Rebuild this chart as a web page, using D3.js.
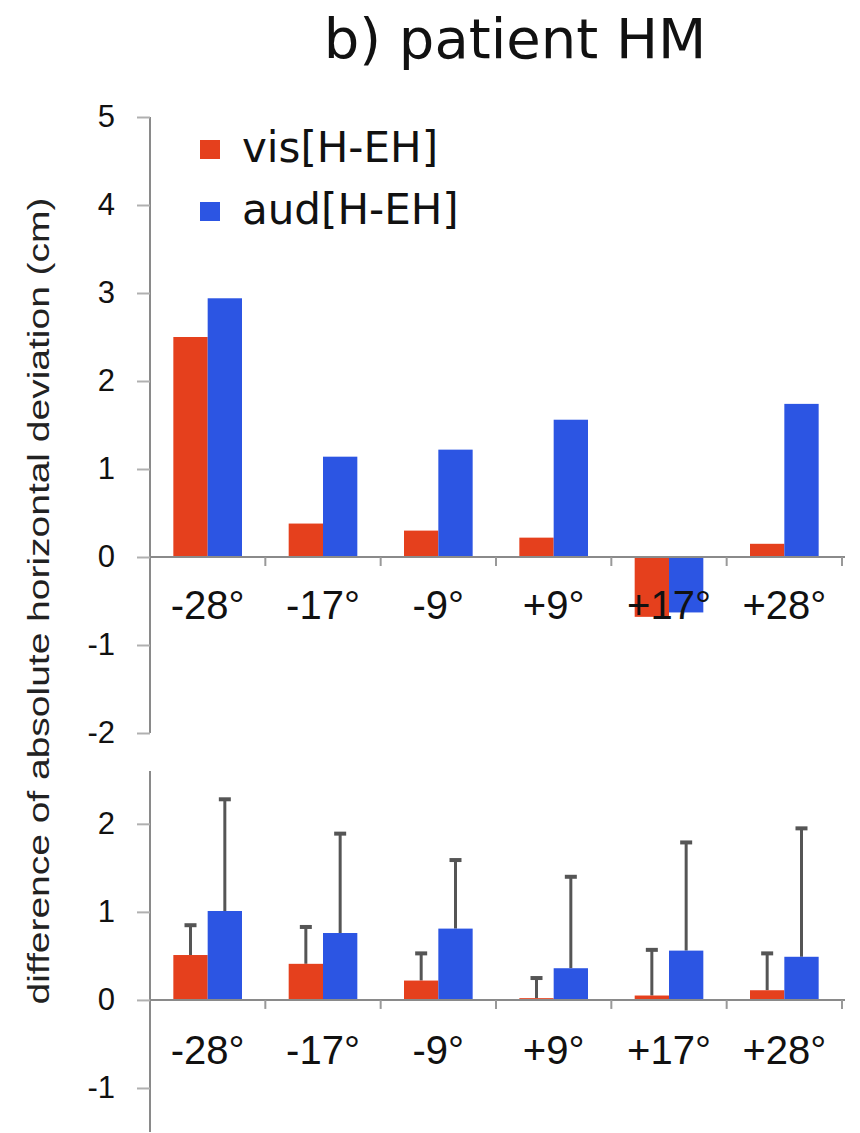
<!DOCTYPE html>
<html>
<head>
<meta charset="utf-8">
<script src="https://cdn.jsdelivr.net/npm/d3@7"></script>
<style>
  body { margin: 0; background: #fff; }
  .axis path, .axis line { stroke: #8a8a8a; }
  .axis text { font-family: "Liberation Sans", Arial, sans-serif; fill: #111; }
</style>
</head>
<body>
<div id="chart"></div>
<script>
"use strict";

// values (cm)
const categories = ["-28°", "-17°", "-9°", "+9°", "+17°", "+28°"];
const seriesNames = ["vis[H-EH]", "aud[H-EH]"];

// upper panel: patient HM
const patientVis = [2.5, 0.38, 0.3, 0.22, -0.68, 0.15];
const patientAud = [2.94, 1.14, 1.22, 1.56, -0.63, 1.74];

// lower panel: means with error bars
const lowerVis = [0.51, 0.41, 0.22, 0.02, 0.05, 0.11];
const lowerAud = [1.01, 0.76, 0.81, 0.36, 0.56, 0.49];
const lowerVisErr = [0.35, 0.43, 0.32, 0.24, 0.53, 0.43];
const lowerAudErr = [1.28, 1.14, 0.79, 1.05, 1.24, 1.47];

const topTicks = [-2, -1, 0, 1, 2, 3, 4, 5];
const bottomTicks = [-1, 0, 1, 2];

const colors = ["#e5401d", "#2c55e3"];

const width = 860,
  height = 1133,
  left = 150,
  right = 842;

const svg = d3
  .select("#chart")
  .append("svg")
  .attr("width", width)
  .attr("height", height);

// title
svg
  .append("text")
  .attr("x", 515)
  .attr("y", 58)
  .attr("text-anchor", "middle")
  .style("font-family", "DejaVu Sans, Verdana, sans-serif")
  .style("font-size", "56px")
  .style("fill", "#111")
  .text("b) patient HM");

// y axis title
svg
  .append("text")
  .attr("transform", "translate(49,601) rotate(-90)")
  .attr("text-anchor", "middle")
  .attr("textLength", 807)
  .attr("lengthAdjust", "spacingAndGlyphs")
  .style("font-family", "Liberation Sans, Arial, sans-serif")
  .style("font-size", "30px")
  .style("fill", "#222")
  .text("difference of absolute horizontal deviation (cm)");

const xScale = d3.scaleBand().domain(categories).range([left, right]);
const xSub = d3
  .scaleBand()
  .domain(seriesNames)
  .range([0, xScale.bandwidth()])
  .paddingInner(0)
  .paddingOuter(0.68);

function drawPanel(opts) {
  const y = d3.scaleLinear().domain(opts.domain).range(opts.range);
  const g = svg.append("g");

  const rows = categories.map(function (c, i) {
    return {
      cat: c,
      values: opts.series.map(function (s, k) {
        return {
          name: seriesNames[k],
          value: s[i],
          err: opts.errors ? opts.errors[k][i] : null,
          color: colors[k],
        };
      }),
    };
  });

  const groups = g
    .selectAll(".grp")
    .data(rows)
    .enter()
    .append("g")
    .attr("class", "grp")
    .attr("transform", (d) => "translate(" + xScale(d.cat) + ",0)");

  // error bars go behind the bars
  if (opts.errors) {
    const eb = groups
      .selectAll(".err")
      .data((d) => d.values)
      .enter()
      .append("g")
      .attr("class", "err")
      .style("stroke", "#555");
    eb.append("line")
      .attr("x1", (d) => xSub(d.name) + xSub.bandwidth() / 2)
      .attr("x2", (d) => xSub(d.name) + xSub.bandwidth() / 2)
      .attr("y1", (d) => y(d.value))
      .attr("y2", (d) => y(d.value + d.err))
      .style("stroke-width", 3);
    eb.append("line")
      .attr("x1", (d) => xSub(d.name) + xSub.bandwidth() / 2 - 6)
      .attr("x2", (d) => xSub(d.name) + xSub.bandwidth() / 2 + 6)
      .attr("y1", (d) => y(d.value + d.err) + 1)
      .attr("y2", (d) => y(d.value + d.err) + 1)
      .style("stroke-width", 4);
  }

  groups
    .selectAll("rect")
    .data((d) => d.values)
    .enter()
    .append("rect")
    .attr("x", (d) => xSub(d.name))
    .attr("width", xSub.bandwidth())
    .attr("y", (d) => y(Math.max(0, d.value)))
    .attr("height", (d) => Math.abs(y(d.value) - y(0)))
    .style("fill", (d) => d.color);

  // y axis
  const yAxis = d3
    .axisLeft(y)
    .tickValues(opts.ticks)
    .tickFormat((d) => String(d))
    .tickSize(13)
    .tickPadding(22);
  const ya = g
    .append("g")
    .attr("class", "axis")
    .attr("transform", "translate(" + left + ",0)")
    .call(yAxis);
  ya.select(".domain")
    .attr("d", "M0," + opts.range[0] + "V" + opts.range[1])
    .style("stroke-width", 2);
  ya.selectAll(".tick line").style("stroke", "#b0b0b0").style("stroke-width", 2);
  ya.selectAll("text").style("font-size", "31px");

  // x axis at zero, ticks between categories
  const zero = y(0);
  const xa = g.append("g").attr("class", "axis");
  xa.append("line")
    .attr("x1", left)
    .attr("x2", right + 3)
    .attr("y1", zero)
    .attr("y2", zero)
    .style("stroke-width", 2);
  xa.selectAll(".xt")
    .data(categories)
    .enter()
    .append("line")
    .attr("class", "xt")
    .attr("x1", (d) => xScale(d) + xScale.bandwidth())
    .attr("x2", (d) => xScale(d) + xScale.bandwidth())
    .attr("y1", zero)
    .attr("y2", zero + 9)
    .style("stroke", "#999")
    .style("stroke-width", 2);
  xa.selectAll(".xl")
    .data(categories)
    .enter()
    .append("text")
    .attr("class", "xl")
    .attr("x", (d) => xScale(d) + xScale.bandwidth() / 2)
    .attr("y", zero + opts.labelOffset)
    .attr("text-anchor", "middle")
    .style("font-size", "40px")
    .text((d) => d);
}

drawPanel({
  domain: [-2, 5],
  range: [733, 117],
  ticks: topTicks,
  series: [patientVis, patientAud],
  labelOffset: 62,
});

drawPanel({
  domain: [-1.5, 2.6],
  range: [1132, 771],
  ticks: bottomTicks,
  series: [lowerVis, lowerAud],
  errors: [lowerVisErr, lowerAudErr],
  labelOffset: 64,
});

// legend
const legend = svg
  .append("g")
  .selectAll("g")
  .data(seriesNames)
  .enter()
  .append("g")
  .attr("transform", (d, i) => "translate(200," + (140 + i * 62) + ")");
legend
  .append("rect")
  .attr("width", 20)
  .attr("height", 19)
  .style("fill", (d, i) => colors[i]);
legend
  .append("text")
  .attr("x", 42)
  .attr("y", 22)
  .style("font-family", "DejaVu Sans, Verdana, sans-serif")
  .style("font-size", "42px")
  .style("fill", "#111")
  .text((d) => d);
</script>
</body>
</html>
